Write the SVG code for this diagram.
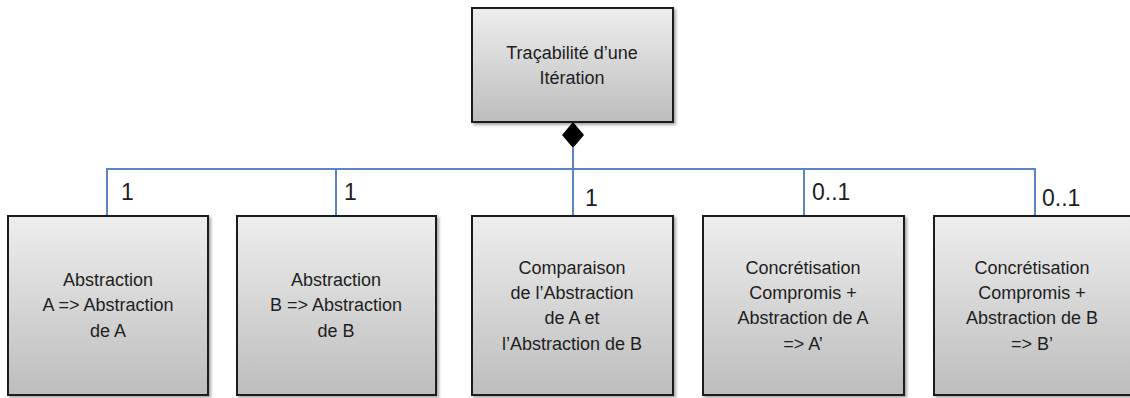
<svg xmlns="http://www.w3.org/2000/svg" width="1130" height="398" viewBox="0 0 1130 398">
<style>
.box{fill:url(#g);stroke:#1a1a1a;stroke-width:2;filter:url(#sh)}
.t{font-family:"Liberation Sans",Arial,sans-serif;font-size:18px;fill:#1e1e1e;text-anchor:middle}
.m{font-family:"Liberation Sans",Arial,sans-serif;font-size:23px;fill:#1e1e1e}
.c{fill:none;stroke:#5b86c0;stroke-width:2}
</style>
<defs>
<linearGradient id="g" x1="0" y1="0" x2="0" y2="1">
<stop offset="0" stop-color="#eeeeee"/>
<stop offset="1" stop-color="#bdbdbd"/>
</linearGradient>
<filter id="sh" x="-5%" y="-5%" width="115%" height="115%">
<feDropShadow dx="2" dy="2" stdDeviation="1.5" flood-color="#000" flood-opacity="0.35"/>
</filter>
</defs>
<g id="connectors">
<path class="c" d="M107,216 V169 H1035 V216 M336,169 V216 M573,148 V216 M804,169 V216"/>
<polygon points="573,122 584,135 573,148 562,135" fill="#000"/>
<text class="m" x="121" y="200">1</text>
<text class="m" x="344" y="200">1</text>
<text class="m" x="585" y="206">1</text>
<text class="m" x="812" y="200">0..1</text>
<text class="m" x="1042" y="206">0..1</text>
</g>
<g id="top">
<rect class="box" x="472" y="8" width="201" height="114"/>
<text class="t" x="572" y="59">Traçabilité d’une</text>
<text class="t" x="572" y="84">Itération</text>
</g>
<g id="n1">
<rect class="box" x="8" y="216" width="200" height="179"/>
<text class="t" x="108" y="286">Abstraction</text>
<text class="t" x="108" y="311">A =&gt; Abstraction</text>
<text class="t" x="108" y="337">de A</text>
</g>
<g id="n2">
<rect class="box" x="237" y="216" width="199" height="179"/>
<text class="t" x="336" y="286">Abstraction</text>
<text class="t" x="336" y="311">B =&gt; Abstraction</text>
<text class="t" x="336" y="337">de B</text>
</g>
<g id="n3">
<rect class="box" x="472" y="216" width="201" height="179"/>
<text class="t" x="572" y="274">Comparaison</text>
<text class="t" x="572" y="299">de  l’Abstraction</text>
<text class="t" x="572" y="324">de A et</text>
<text class="t" x="572" y="350">l’Abstraction de B</text>
</g>
<g id="n4">
<rect class="box" x="703" y="216" width="201" height="179"/>
<text class="t" x="803" y="274">Concrétisation</text>
<text class="t" x="803" y="299">Compromis +</text>
<text class="t" x="803" y="324">Abstraction de A</text>
<text class="t" x="803" y="350">=&gt; A’</text>
</g>
<g id="n5">
<rect class="box" x="934" y="216" width="198" height="179"/>
<text class="t" x="1032" y="274">Concrétisation</text>
<text class="t" x="1032" y="299">Compromis +</text>
<text class="t" x="1032" y="324">Abstraction de B</text>
<text class="t" x="1032" y="350">=&gt; B’</text>
</g>
</svg>
